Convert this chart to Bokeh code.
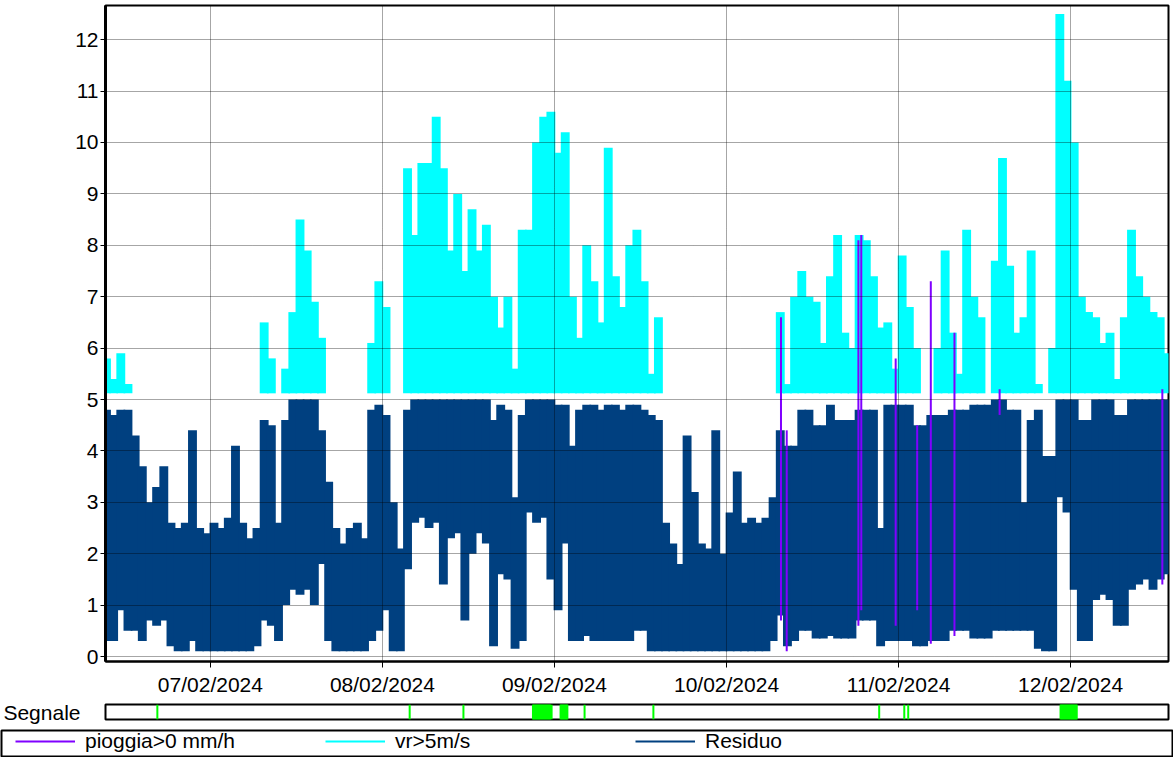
from datetime import datetime, timedelta

from bokeh.embed import file_html
from bokeh.layouts import column
from bokeh.models import (DatetimeTickFormatter, FixedTicker, Legend, LegendItem,
                          Range1d)
from bokeh.plotting import figure
from bokeh.resources import INLINE

# ---------------------------------------------------------------- data
BASE = datetime(2024, 2, 6)          # 06/02/2024 00:00
FIRST_HOUR = 9                       # first hourly bin starts 06/02 09:00

# Residuo: hourly envelope (max / min)
residuo_hi = [
    4.8, 4.7, 4.8, 4.8, 4.3, 3.7, 3.0, 3.3, 3.7, 2.6,
    2.5, 2.6, 4.4, 2.5, 2.4, 2.6, 2.5, 2.7, 4.1, 2.6,
    2.3, 2.5, 4.6, 4.5, 2.6, 4.6, 5.0, 5.0, 5.0, 5.0,
    4.4, 3.4, 2.5, 2.2, 2.5, 2.6, 2.3, 4.8, 4.9, 4.7,
    3.0, 2.1, 4.8, 5.0, 5.0, 5.0, 5.0, 5.0, 5.0, 5.0,
    5.0, 5.0, 5.0, 5.0, 4.6, 4.9, 4.8, 3.1, 4.7, 5.0,
    5.0, 5.0, 5.0, 4.9, 4.9, 4.1, 4.8, 4.9, 4.9, 4.8,
    4.9, 4.9, 4.8, 4.9, 4.9, 4.8, 4.7, 4.6, 2.6, 2.2,
    1.8, 4.3, 3.2, 2.2, 2.1, 4.4, 2.0, 2.8, 3.6, 2.6,
    2.7, 2.6, 2.7, 3.1, 4.4, 4.1, 4.1, 4.8, 4.8, 4.5,
    4.5, 4.9, 4.6, 4.6, 4.6, 4.8, 4.8, 4.8, 2.5, 4.9,
    4.9, 4.9, 4.9, 4.5, 4.5, 4.7, 4.7, 4.7, 4.8, 4.8,
    4.8, 4.9, 4.9, 4.9, 5.0, 5.0, 4.8, 4.8, 3.0, 4.6,
    4.8, 3.9, 3.9, 5.0, 5.0, 5.0, 4.6, 4.6, 5.0, 5.0,
    5.0, 4.7, 4.7, 5.0, 5.0, 5.0, 5.0, 5.0, 5.0,
]
residuo_lo = [
    0.3, 0.3, 0.9, 0.5, 0.5, 0.3, 0.7, 0.6, 0.7, 0.2,
    0.1, 0.1, 0.3, 0.1, 0.1, 0.1, 0.1, 0.1, 0.1, 0.1,
    0.1, 0.2, 0.7, 0.6, 0.3, 1.0, 1.3, 1.2, 1.3, 1.0,
    1.8, 0.3, 0.1, 0.1, 0.1, 0.1, 0.1, 0.3, 0.5, 0.9,
    0.1, 0.1, 1.7, 2.6, 2.7, 2.5, 2.6, 1.4, 2.3, 2.4,
    0.7, 2.0, 2.4, 2.2, 0.2, 1.6, 1.5, 0.15, 0.3, 2.8,
    2.6, 2.7, 1.5, 0.9, 2.2, 0.3, 0.3, 0.4, 0.3, 0.3,
    0.3, 0.3, 0.3, 0.3, 0.5, 0.5, 0.1, 0.1, 0.1, 0.1,
    0.1, 0.1, 0.1, 0.1, 0.1, 0.1, 0.1, 0.1, 0.1, 0.1,
    0.1, 0.1, 0.1, 0.3, 0.8, 0.2, 0.3, 0.5, 0.5, 0.35,
    0.35, 0.4, 0.35, 0.35, 0.35, 0.7, 0.7, 0.7, 0.2, 0.3,
    0.3, 0.3, 0.3, 0.2, 0.2, 0.3, 0.3, 0.3, 0.5, 0.5,
    0.5, 0.35, 0.35, 0.35, 0.5, 0.5, 0.5, 0.5, 0.5, 0.5,
    0.15, 0.1, 0.1, 3.1, 2.8, 1.3, 0.3, 0.3, 1.1, 1.2,
    1.1, 0.6, 0.6, 1.3, 1.4, 1.5, 1.3, 1.5, 1.6,
]

# vr>5m/s: hourly maximum (None = no value above 5 m/s)
N = None
vento_lo = 5.12
vento_hi = [
    5.8, 5.4, 5.9, 5.3, N, N, N, N, N, N,
    N, N, N, N, N, N, N, N, N, N,
    N, N, 6.5, 5.8, N, 5.6, 6.7, 8.5, 7.9, 6.9,
    6.2, N, N, N, N, N, N, 6.1, 7.3, 6.8,
    N, N, 9.5, 8.2, 9.6, 9.6, 10.5, 9.5, 7.9, 9.0,
    7.5, 8.7, 7.9, 8.4, 7.0, 6.4, 7.0, 5.6, 8.3, 8.3,
    10.0, 10.5, 10.6, 9.8, 10.2, 7.0, 6.2, 8.0, 7.3, 6.5,
    9.9, 7.4, 6.8, 8.0, 8.3, 7.3, 5.5, 6.6, N, N,
    N, N, N, N, N, N, N, N, N, N,
    N, N, N, N, 6.7, 5.3, 7.0, 7.5, 7.0, 6.9,
    6.1, 7.4, 8.2, 6.3, 6.0, 8.2, 8.1, 7.4, 6.4, 6.5,
    5.6, 7.8, 6.8, 6.0, N, N, 6.0, 7.9, 6.3, 5.5,
    8.3, 7.0, 6.6, N, 7.7, 9.7, 7.6, 6.3, 6.6, 7.9,
    5.3, N, 6.0, 12.5, 11.2, 10.0, 7.0, 6.7, 6.6, 6.1,
    6.3, 5.4, 6.6, 8.3, 7.4, 7.0, 6.7, 6.6, 5.9,
]

# pioggia>0 mm/h: individual spikes (hour from 06/02 00:00, min, max)
pioggia_hour = [103.6, 104.4, 114.4, 114.8, 119.6, 122.6, 124.5, 127.8, 134.1, 156.8]
pioggia_lo = [0.7, 0.1, 0.6, 0.9, 0.6, 0.9, 0.25, 0.4, 4.7, 1.4]
pioggia_hi = [6.6, 4.4, 8.1, 8.2, 5.8, 4.5, 7.3, 6.3, 5.2, 5.2]

# Segnale: active intervals (hours from 06/02 00:00)
segnale_start = [16.6, 51.8, 59.3, 69.0, 71.6, 72.85, 76.2, 85.8, 117.3, 120.8, 121.35, 142.6, 143.96]
segnale_end = [16.6, 51.8, 59.3, 71.4, 71.6, 73.8, 76.2, 85.8, 117.3, 120.8, 121.35, 143.8, 144.86]

day_labels = ["07/02/2024", "08/02/2024", "09/02/2024", "10/02/2024", "11/02/2024", "12/02/2024"]
y_ticks = list(range(0, 13))
x_start_hour, x_end_hour = 9.366, 157.66

series_names = ["pioggia>0 mm/h", "vr>5m/s", "Residuo"]
C_PIOGGIA, C_VENTO, C_RESIDUO, C_SEGNALE = "#8000FF", "#00FFFF", "#004080", "#00FF00"
FONT = "Liberation Sans"


def T(h):
    return BASE + timedelta(hours=h)


def ms(dt):
    return (dt - datetime(1970, 1, 1)).total_seconds() * 1000.0


# ---------------------------------------------------------------- main plot
x_range = Range1d(T(x_start_hour), T(x_end_hour))
p = figure(width=1170, height=698, x_axis_type="datetime", x_range=x_range,
           y_range=Range1d(-0.097, 12.665), output_backend="svg", toolbar_location=None,
           min_border_left=104, min_border_right=2, min_border_top=5, min_border_bottom=37)

hours = [FIRST_HOUR + i for i in range(len(residuo_hi))]
p.quad(left=[T(h - 0.12) for h in hours], right=[T(h + 1.12) for h in hours],
       bottom=residuo_lo, top=residuo_hi,
       fill_color=C_RESIDUO, line_color=None)

vh = [h for h, v in zip(hours, vento_hi) if v is not None]
vv = [v for v in vento_hi if v is not None]
p.quad(left=[T(h - 0.12) for h in vh], right=[T(h + 1.12) for h in vh],
       bottom=[vento_lo] * len(vv), top=vv,
       fill_color=C_VENTO, line_color=None)

p.segment(x0=[T(h) for h in pioggia_hour], y0=pioggia_lo,
          x1=[T(h) for h in pioggia_hour], y1=pioggia_hi,
          line_color=C_PIOGGIA, line_width=2)

day_ticks = [ms(datetime.strptime(d, "%d/%m/%Y")) for d in day_labels]
p.xaxis.ticker = FixedTicker(ticks=day_ticks)
f = "%d/%m/%Y"
p.xaxis.formatter = DatetimeTickFormatter(milliseconds=f, seconds=f, minsec=f, minutes=f,
                                          hourmin=f, hours=f, days=f, months=f, years=f)
p.yaxis.ticker = FixedTicker(ticks=y_ticks)

p.outline_line_color = "black"
p.outline_line_width = 2
p.axis.major_label_text_font = FONT
p.axis.major_label_text_font_size = "21px"
p.axis.major_label_text_color = "black"
p.axis.minor_tick_line_color = None
p.axis.major_tick_in = 0
p.axis.axis_line_color = "black"
p.axis.major_tick_line_color = "black"
p.xaxis.major_tick_out = 6
p.xaxis.major_label_standoff = 5
p.xaxis.axis_line_width = 2
p.yaxis.major_tick_out = 5
p.yaxis.major_label_standoff = 2
p.yaxis.axis_line_width = 3
p.grid.grid_line_color = "black"
p.grid.grid_line_alpha = 0.7
p.grid.grid_line_dash = "1 1"
p.grid.grid_line_width = 1
p.grid.level = "overlay"

# ---------------------------------------------------------------- Segnale strip
s = figure(width=1170, height=26, x_axis_type="datetime", x_range=x_range,
           y_range=Range1d(0, 1), x_axis_location=None, output_backend="svg",
           toolbar_location=None, min_border_left=104, min_border_right=2,
           min_border_top=6, min_border_bottom=5)
s.quad(left=[T(h) for h in segnale_start], right=[T(h) for h in segnale_end],
       bottom=0, top=1, fill_color=C_SEGNALE, line_color=C_SEGNALE, line_width=2)
s.grid.visible = False
s.outline_line_color = "black"
s.outline_line_width = 2
s.yaxis.ticker = FixedTicker(ticks=[0.5])
s.yaxis.major_label_overrides = {0.5: "Segnale"}
s.yaxis.axis_line_color = None
s.yaxis.major_tick_line_color = None
s.yaxis.minor_tick_line_color = None
s.yaxis.major_label_standoff = 19
s.yaxis.major_label_text_font = FONT
s.yaxis.major_label_text_font_size = "21px"
s.yaxis.major_label_text_color = "black"

# ---------------------------------------------------------------- legend strip
lg = figure(width=1173, height=33, x_range=Range1d(0, 1), y_range=Range1d(0, 1),
            x_axis_location=None, y_axis_location=None, output_backend="svg",
            toolbar_location=None, min_border_left=1, min_border_right=1,
            min_border_top=6, min_border_bottom=1)
lg.grid.visible = False
lg.outline_line_color = "black"
lg.outline_line_width = 2
colors = [C_PIOGGIA, C_VENTO, C_RESIDUO]
offsets = [14, 324, 634]
for name, col, off in zip(series_names, colors, offsets):
    r = lg.line(x=[-5, -4], y=[-5, -5], line_color=col, line_width=2)
    leg = Legend(items=[LegendItem(label=name, renderers=[r])], location=(off, 3),
                 orientation="horizontal", glyph_width=60, glyph_height=20,
                 label_standoff=10, padding=0, margin=0, spacing=0,
                 border_line_color=None, background_fill_alpha=0,
                 label_text_font=FONT, label_text_font_size="21px",
                 label_text_color="black", label_height=20)
    lg.add_layout(leg)

open("out.html", "w").write(file_html([column(p, s, spacing=0), lg], INLINE))
